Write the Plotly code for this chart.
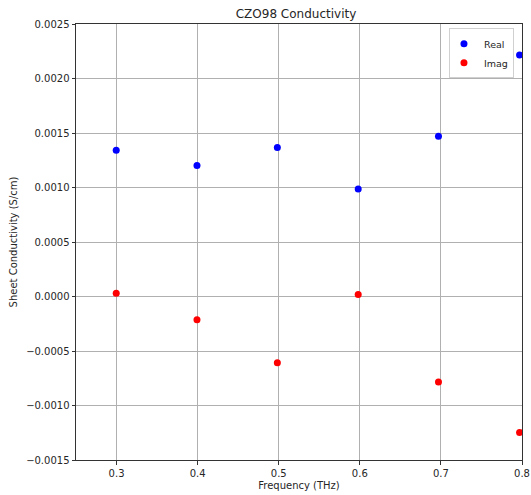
import plotly.graph_objects as go

freq = [0.2996, 0.3992, 0.4983, 0.598, 0.697, 0.797]
real = [0.001342, 0.001201, 0.001367, 0.000986, 0.00147, 0.002215]
imag = [0.00003, -0.000214, -0.000607, 0.000018, -0.000784, -0.001247]

yticks = [-0.0015, -0.0010, -0.0005, 0.0, 0.0005, 0.0010, 0.0015, 0.0020, 0.0025]
xticks = [0.3, 0.4, 0.5, 0.6, 0.7, 0.8]

fig = go.Figure()
fig.add_trace(go.Scatter(x=freq, y=real, mode="markers", name="Real",
                         marker=dict(color="#0000ff", size=7)))
fig.add_trace(go.Scatter(x=freq, y=imag, mode="markers", name="Imag",
                         marker=dict(color="#ff0000", size=7)))

font = "DejaVu Sans, sans-serif"
fig.update_layout(
    width=531, height=495, autosize=False,
    margin=dict(l=76, r=9, t=24, b=35, autoexpand=False),
    paper_bgcolor="white", plot_bgcolor="white",
    font=dict(family=font, size=10, color="#262626"),
    title=dict(text="CZO98 Conductivity", x=296 / 531, xanchor="center",
               y=1 - 14 / 495, yanchor="middle",
               font=dict(size=12, color="#262626")),
    showlegend=True,
    legend=dict(x=0.982, y=0.99, xanchor="right", yanchor="top",
                bgcolor="rgba(255,255,255,0.9)", bordercolor="#d0d0d0", borderwidth=1,
                font=dict(size=9.5), itemwidth=30, tracegroupgap=0,
                indentation=-6),
)
fig.update_xaxes(range=[0.25, 0.8], tickvals=xticks, tickformat=".1f",
                 automargin=False,
                 showgrid=True, gridcolor="#b0b0b0", gridwidth=0.8,
                 showline=True, linecolor="#333333", linewidth=1, mirror=True,
                 ticks="outside", ticklen=3.5, tickcolor="#333333",
                 zeroline=False,
                 title=dict(text="Frequency (THz)", standoff=4, font=dict(size=10)))
fig.update_yaxes(range=[-0.0015, 0.0025], tickvals=yticks, tickformat=".4f",
                 automargin=False,
                 showgrid=True, gridcolor="#b0b0b0", gridwidth=0.8,
                 showline=True, linecolor="#333333", linewidth=1, mirror=True,
                 ticks="outside", ticklen=3.5, tickcolor="#333333",
                 zeroline=False,
                 title=dict(text="Sheet Conductivity (S/cm)", standoff=6, font=dict(size=10)))

fig.write_html("out.html", config={"displayModeBar": False},
               post_script="document.body.style.margin='0';")
